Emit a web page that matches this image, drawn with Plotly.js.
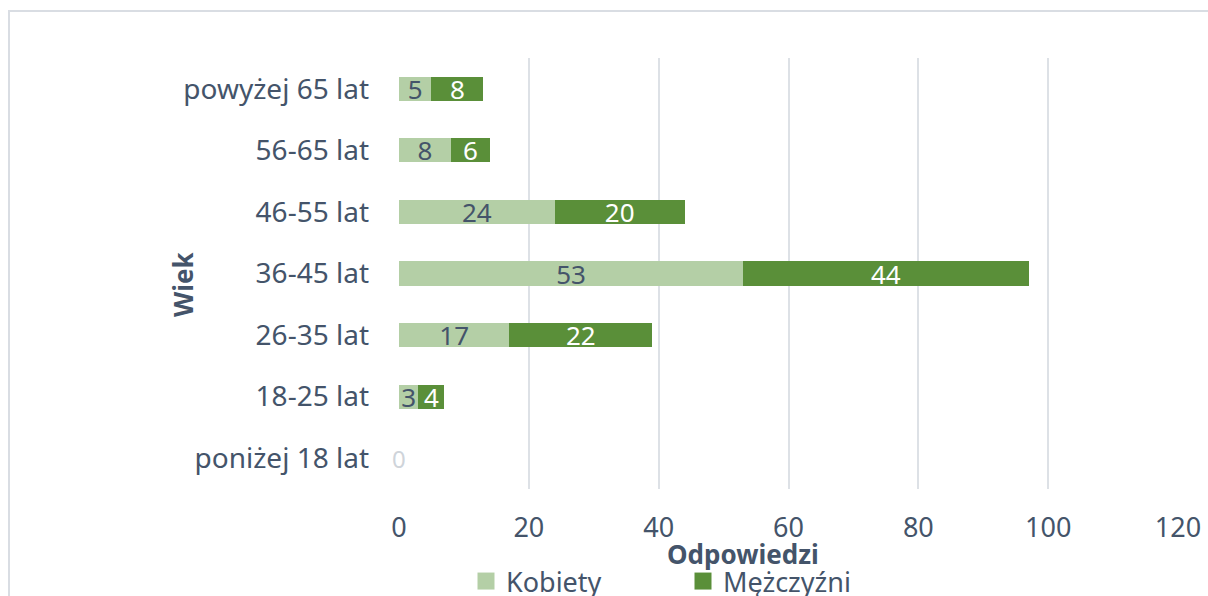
<!DOCTYPE html>
<html><head><meta charset="utf-8">
<script src="https://cdn.plot.ly/plotly-3.0.1.min.js"></script>
<style>html,body{margin:0;padding:0;background:#fff;overflow:hidden;width:1208px;height:596px;}#chart{width:1208px;height:630px;}</style>
</head><body><div id="chart"></div>
<script>
const categories = ["poniżej 18 lat","18-25 lat","26-35 lat","36-45 lat","46-55 lat","56-65 lat","powyżej 65 lat"];
const kobiety = [0, 3, 17, 53, 24, 8, 5];
const mezczyzni = [0, 4, 22, 44, 20, 6, 8];
const xTicks = [0, 20, 40, 60, 80, 100, 120];

const FONT = "Noto Sans, sans-serif";
const TXT = "#44546a";
const H = 630, PB = 489, PT = 58, PL = 399, PR = 1178;
const PH = PB - PT, PW = PR - PL;

const traces = [
  {type:"bar", orientation:"h", name:"Kobiety", y:categories, x:kobiety,
   marker:{color:"#b4cfa6"},
   text:kobiety.map(v => v === 0 ? "" : String(v)),
   textposition:"inside", textangle:0,
   insidetextanchor:"middle", constraintext:"none",
   textfont:{family:FONT, size:26, color:TXT},
   hoverinfo:"none"},
  {type:"bar", orientation:"h", name:"Mężczyźni", y:categories, x:mezczyzni,
   marker:{color:"#5a8f39"},
   text:mezczyzni.map(v => v === 0 ? "" : String(v)),
   textposition:"inside", textangle:0, insidetextanchor:"middle", constraintext:"none",
   textfont:{family:FONT, size:26, color:"#ffffff"},
   hoverinfo:"none"}
];

const zeroNotes = [];
kobiety.forEach((v, i) => {
  if (v === 0) zeroNotes.push({x:v, y:categories[i], xref:"x", yref:"y", text:String(v), showarrow:false,
    xanchor:"center", yanchor:"middle", font:{family:FONT, size:24, color:"#cfd4da"}});
});

const layout = {
  width:1208, height:H,
  margin:{l:PL, r:1208-PR, t:PT, b:H-PB, autoexpand:false},
  barmode:"stack", bargap:0.61,
  paper_bgcolor:"#fff", plot_bgcolor:"#fff",
  font:{family:FONT, color:TXT},
  showlegend:true,
  legend:{orientation:"h", x:(466-PL)/PW, xanchor:"left", y:(PB-557)/PH, yanchor:"top",
          font:{family:FONT, size:27, color:TXT}, traceorder:"normal",
          entrywidth:172, entrywidthmode:"pixels", bgcolor:"rgba(0,0,0,0)"},
  xaxis:{range:[0,120], tickvals:xTicks, ticktext:xTicks.map(String),
         showgrid:true, gridcolor:"#dde1e6", gridwidth:2,
         zeroline:false, showline:false, automargin:false,
         tickfont:{family:FONT, size:27, color:TXT}, ticklabelstandoff:20, fixedrange:true},
  yaxis:{type:"category", categoryorder:"array", categoryarray:categories,
         showgrid:false, zeroline:false, showline:false, automargin:false,
         tickfont:{family:FONT, size:28, color:TXT}, ticklabelstandoff:29, fixedrange:true},
  annotations:[
    {text:"<b>Odpowiedzi</b>", xref:"paper", yref:"paper", x:(743-PL)/PW, y:(PB-554)/PH,
     xanchor:"center", yanchor:"middle", showarrow:false, font:{family:FONT, size:26, color:TXT}},
    {text:"<b>Wiek</b>", xref:"paper", yref:"paper", x:(183-PL)/PW, y:(PB-285)/PH,
     xanchor:"center", yanchor:"middle", textangle:-90, showarrow:false, font:{family:FONT, size:26, color:TXT}}
  ].concat(zeroNotes),
  shapes:[
    {type:"rect", xref:"paper", yref:"paper", x0:(9-PL)/PW, x1:(1240-PL)/PW,
     y0:(PB-625)/PH, y1:(PB-11)/PH, line:{color:"#d9dde3", width:2}, fillcolor:"rgba(0,0,0,0)", layer:"below"}
  ]
};

Plotly.newPlot("chart", traces, layout, {displayModeBar:false, staticPlot:true}).then(gd => {
  gd.querySelectorAll(".legend .legendpoints path").forEach(p => {
    p.setAttribute("d", "M8.5,8.5H-8.5V-8.5H8.5Z");
  });
});
</script></body></html>
